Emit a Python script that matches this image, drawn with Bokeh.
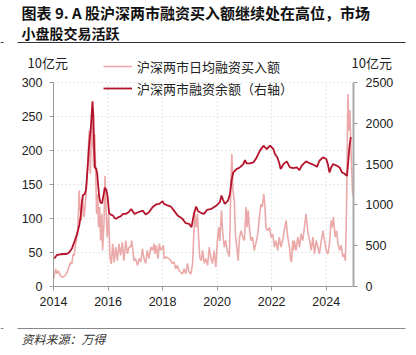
from bokeh.plotting import figure
from bokeh.models import Range1d, LinearAxis, FixedTicker, Label, Legend, LegendItem, BoxAnnotation
from bokeh.embed import file_html
from bokeh.resources import INLINE

# ---------------- data ----------------
buy_dates = [2014.00, 2014.04, 2014.08, 2014.12, 2014.18, 2014.25, 2014.33, 2014.42, 2014.50, 2014.56,
             2014.63, 2014.67, 2014.72, 2014.76, 2014.81, 2014.86, 2014.90, 2014.94, 2014.97, 2015.02,
             2015.07, 2015.12, 2015.16, 2015.20, 2015.24, 2015.28, 2015.31, 2015.35, 2015.39, 2015.41,
             2015.43, 2015.47, 2015.51, 2015.55, 2015.58, 2015.62, 2015.65, 2015.69, 2015.73, 2015.77,
             2015.80, 2015.85, 2015.89, 2015.92, 2015.97, 2016.02, 2016.07, 2016.12, 2016.17, 2016.22,
             2016.28, 2016.34, 2016.40, 2016.46, 2016.52, 2016.58, 2016.65, 2016.71, 2016.77, 2016.83,
             2016.87, 2016.95, 2017.01, 2017.08, 2017.14, 2017.20, 2017.26, 2017.32, 2017.38, 2017.44,
             2017.50, 2017.57, 2017.63, 2017.69, 2017.72, 2017.77, 2017.83, 2017.88, 2017.93, 2018.00,
             2018.03, 2018.06, 2018.12, 2018.24, 2018.30, 2018.36, 2018.42, 2018.48, 2018.54, 2018.60,
             2018.66, 2018.73, 2018.79, 2018.85, 2018.91, 2018.97, 2019.04, 2019.10, 2019.14, 2019.18,
             2019.23, 2019.28, 2019.32, 2019.37, 2019.42, 2019.47, 2019.53, 2019.59, 2019.65, 2019.71,
             2019.77, 2019.83, 2019.89, 2019.95, 2020.02, 2020.06, 2020.10, 2020.16, 2020.20, 2020.26,
             2020.31, 2020.37, 2020.45, 2020.48, 2020.51, 2020.54, 2020.58, 2020.63, 2020.67, 2020.72,
             2020.77, 2020.82, 2020.88, 2020.94, 2021.00, 2021.06, 2021.10, 2021.14, 2021.18, 2021.24,
             2021.30, 2021.36, 2021.42, 2021.49, 2021.55, 2021.61, 2021.66, 2021.71, 2021.75, 2021.79,
             2021.85, 2021.92, 2021.98, 2022.04, 2022.10, 2022.16, 2022.22, 2022.28, 2022.34, 2022.40,
             2022.46, 2022.53, 2022.59, 2022.65, 2022.69, 2022.73, 2022.77, 2022.80, 2022.83, 2022.89,
             2022.96, 2023.02, 2023.08, 2023.14, 2023.20, 2023.26, 2023.32, 2023.39, 2023.45, 2023.51,
             2023.57, 2023.63, 2023.69, 2023.75, 2023.82, 2023.88, 2023.94, 2024.00, 2024.06, 2024.12,
             2024.18, 2024.22, 2024.26, 2024.33, 2024.38, 2024.43, 2024.49, 2024.55, 2024.61, 2024.66,
             2024.70, 2024.73, 2024.76, 2024.78, 2024.80, 2024.83, 2024.87, 2024.90, 2024.94, 2024.97]
buy_values = [12, 19, 26, 19, 23, 16, 13.5, 16, 21, 28,
              35.5, 33, 48, 45.6, 62.7, 72.5, 92, 141, 117, 97,
              131, 102, 117, 141, 166, 205, 229, 166, 239, 205,
              249, 175, 224, 166, 107, 136, 87, 117, 67.6, 107,
              53, 92, 163, 122, 72.5, 107, 43, 33, 62.7, 35.5,
              58, 38, 62.7, 45.6, 65, 38, 67.6, 48, 58, 58,
              67.6, 38, 41, 31, 41, 36, 55.5, 41, 33.8, 53,
              41, 58, 53, 63, 48, 60.5, 41, 63, 53, 58,
              60.5, 41, 43.6, 40.7, 38, 33.8, 36, 26, 31, 23.5,
              21, 18.6, 26, 18.6, 33.8, 21, 18.6, 33.8, 72.5, 107,
              87, 107, 72.5, 41, 38, 53, 33.8, 41, 31, 58,
              41, 33.8, 53, 28.6, 72.5, 87, 67, 112, 82, 58,
              67.6, 53, 43.6, 102, 161, 195, 141, 126, 77, 58,
              38, 72.5, 82, 72.5, 67.6, 117, 87, 112, 87, 67.6,
              72.5, 53, 63, 77, 102, 121, 117, 136, 121, 87,
              82, 87, 72.5, 77, 58, 67.6, 53, 72.5, 58, 67.6,
              82, 97, 72.5, 58, 40, 36, 67.6, 53, 67.6, 53,
              72.5, 58, 77.5, 67.6, 87, 107, 82, 67.6, 53, 72.5,
              48, 67.6, 58, 48, 67.6, 82, 67.6, 53, 48, 63,
              97, 87, 102, 72.5, 82, 63, 53, 60.5, 43.6, 48,
              38, 82, 156, 239, 283, 229, 259, 210, 166, 134]

bal_dates = [2014.00, 2014.06, 2014.12, 2014.25, 2014.40, 2014.50, 2014.58, 2014.68, 2014.78, 2014.88,
             2014.95, 2015.00, 2015.04, 2015.08, 2015.14, 2015.19, 2015.25, 2015.31, 2015.37, 2015.43,
             2015.46, 2015.49, 2015.52, 2015.56, 2015.60, 2015.64, 2015.68, 2015.72, 2015.78, 2015.85,
             2015.88, 2015.93, 2015.98, 2016.04, 2016.10, 2016.18, 2016.24, 2016.30, 2016.38, 2016.46,
             2016.55, 2016.65, 2016.75, 2016.85, 2016.97, 2017.10, 2017.27, 2017.38, 2017.50, 2017.63,
             2017.76, 2017.88, 2018.00, 2018.05, 2018.18, 2018.30, 2018.42, 2018.55, 2018.73, 2018.85,
             2018.97, 2019.06, 2019.15, 2019.23, 2019.30, 2019.42, 2019.52, 2019.63, 2019.79, 2019.98,
             2020.10, 2020.16, 2020.22, 2020.28, 2020.40, 2020.47, 2020.53, 2020.59, 2020.71, 2020.83,
             2020.96, 2021.02, 2021.08, 2021.20, 2021.33, 2021.45, 2021.57, 2021.70, 2021.76, 2021.82,
             2021.94, 2022.06, 2022.12, 2022.21, 2022.27, 2022.33, 2022.43, 2022.55, 2022.67, 2022.80,
             2022.92, 2023.02, 2023.10, 2023.26, 2023.41, 2023.53, 2023.66, 2023.75, 2023.88, 2024.00,
             2024.06, 2024.12, 2024.18, 2024.25, 2024.39, 2024.49, 2024.58, 2024.66, 2024.76, 2024.80,
             2024.85, 2024.90]
bal_values = [350, 355, 385, 395, 398, 400, 420, 470, 560, 660,
              760, 870, 1030, 1120, 1130, 1180, 1450, 1750, 1950, 2270,
              2100, 1700, 1450, 1450, 1390, 1230, 1090, 1030, 1020, 1150,
              1210, 1190, 1110, 900, 880, 870, 840, 830, 850, 860,
              890, 890, 910, 950, 890, 910, 930, 882, 910, 972,
              1005, 1013, 1046, 1013, 993, 980, 930, 870, 829, 776,
              768, 727, 890, 980, 923, 900, 890, 940, 952, 993,
              1033, 1115, 1060, 1013, 1053, 1135, 1300, 1397, 1438, 1459,
              1500, 1550, 1508, 1508, 1520, 1582, 1665, 1726, 1706, 1685,
              1726, 1685, 1623, 1582, 1520, 1438, 1500, 1533, 1459, 1450,
              1459, 1426, 1480, 1533, 1508, 1492, 1467, 1541, 1582, 1562,
              1500, 1397, 1459, 1500, 1480, 1459, 1397, 1385, 1356, 1500,
              1706, 1830]

x_ticks = [2014, 2016, 2018, 2020, 2022, 2024]
left_ticks = [0, 50, 100, 150, 200, 250, 300]
right_ticks = [0, 500, 1000, 1500, 2000, 2500]
title_line1 = "图表 9. A 股沪深两市融资买入额继续处在高位，市场"
title_line2 = "小盘股交易活跃"
legend_labels = ["沪深两市日均融资买入额", "沪深两市融资余额（右轴）"]
unit_text = "10亿元"
source_text = "资料来源：万得"

# ---------------- layout (pixel geometry of the plotting area) ----------------
W, H = 416, 355
FL, FR, FT, FB = 53, 353, 82, 286          # plotting area edges in page pixels
X0, X1 = 2014.0, 2025.0
Y0, Y1 = 0, 300
R0, R1 = 0, 2500

def dx(px):
    return X0 + (px - FL) * (X1 - X0) / (FR - FL)

def dy(py):
    return Y0 + (FB - py) * (Y1 - Y0) / (FB - FT)

RK = (R1 - R0) / (Y1 - Y0)

PINK = "#EBA9A9"
DARK = "#B5132B"
CJK = "Noto Sans CJK SC"
NUM = "Liberation Sans"
GRID = "#c8c8c8"

p = figure(width=W, height=H, output_backend="svg", toolbar_location=None,
           x_range=Range1d(dx(0), dx(W)), y_range=Range1d(dy(H), dy(0)),
           min_border=0)
p.min_border_left = 0
p.min_border_right = 0
p.min_border_top = 0
p.min_border_bottom = 0
p.title.visible = False
p.extra_y_ranges = {"right": Range1d(dy(H) * RK, dy(0) * RK)}
p.outline_line_color = None
p.background_fill_color = "white"
p.border_fill_color = "white"
p.xgrid.visible = False
p.ygrid.visible = False

# grid lines, limited to the plotting area
p.segment(x0=x_ticks[1:], y0=[Y0] * (len(x_ticks) - 1), x1=x_ticks[1:], y1=[Y1] * (len(x_ticks) - 1),
          line_color=GRID, line_dash="1 3", line_width=1)
p.segment(x0=[X0] * (len(left_ticks) - 1), y0=left_ticks[1:], x1=[X1] * (len(left_ticks) - 1),
          y1=left_ticks[1:], line_color=GRID, line_dash="1 3", line_width=1)

r_buy = p.line(buy_dates, buy_values, line_color=PINK, line_width=1.6)
r_bal = p.line(bal_dates, bal_values, y_range_name="right", line_color=DARK, line_width=1.8)

rax = LinearAxis(y_range_name="right")
p.add_layout(rax, "right")

xax, lax = p.xaxis[0], p.yaxis[0]
xax.fixed_location = Y0
xax.bounds = (X0, X1)
lax.fixed_location = X0
lax.bounds = (Y0, Y1)
rax.fixed_location = X1
rax.bounds = (R0, R1)

for ax in (xax, lax, rax):
    ax.axis_line_color = "#9a9a9a"
    ax.major_tick_line_color = "#9a9a9a"
    ax.major_tick_out = 4
    ax.major_tick_in = 0
    ax.minor_tick_line_color = None
    ax.major_label_text_font = NUM
    ax.major_label_text_font_size = "12.5px"
    ax.major_label_text_color = "#222222"
xax.ticker = FixedTicker(ticks=x_ticks)
lax.ticker = FixedTicker(ticks=left_ticks)
rax.ticker = FixedTicker(ticks=right_ticks)
rax.axis_line_width = 2
rax.axis_line_color = "#aaaaaa"
xax.major_label_standoff = 6
lax.major_label_standoff = 7
rax.major_label_standoff = 8

legend = Legend(items=[LegendItem(label=legend_labels[0], renderers=[r_buy]),
                       LegendItem(label=legend_labels[1], renderers=[r_bal])],
                location=(103, H - 98), orientation="vertical",
                background_fill_alpha=0, border_line_alpha=0,
                padding=0, margin=0, spacing=2,
                glyph_width=29, glyph_height=20, label_height=20, label_standoff=5,
                label_text_font=CJK, label_text_font_size="13px", label_text_color="#222222")
p.add_layout(legend, "center")

p.add_layout(Label(x=dx(21), y=dy(12), text=title_line1, text_baseline="middle",
                   text_font=CJK, text_font_style="bold", text_font_size="15px", text_color="#111111"))
p.add_layout(Label(x=dx(21), y=dy(32.5), text=title_line2, text_baseline="middle",
                   text_font=CJK, text_font_style="bold", text_font_size="14px", text_color="#111111"))
p.add_layout(Label(x=dx(27), y=dy(62), text=unit_text, text_baseline="middle",
                   text_font=CJK, text_font_size="13px", text_color="#222222"))
p.add_layout(Label(x=dx(351), y=dy(62), text=unit_text, text_baseline="middle",
                   text_font=CJK, text_font_size="13px", text_color="#222222"))
p.add_layout(Label(x=dx(21), y=dy(338), text=source_text, text_baseline="middle",
                   text_font=CJK, text_font_style="italic", text_font_size="12px", text_color="#333333"))

for (l, r, yy, col) in [(17, 405, 42, "#333333"), (0, 3, 42, "#333333"),
                        (17, 405, 328, "#888888"), (0, 3, 328, "#888888")]:
    p.add_layout(BoxAnnotation(left=dx(l), right=dx(r), top=dy(yy - 0.5), bottom=dy(yy + 0.5),
                               fill_color=col, fill_alpha=1, line_alpha=0, level="overlay"))

open("out.html", "w").write(file_html(p, INLINE))
